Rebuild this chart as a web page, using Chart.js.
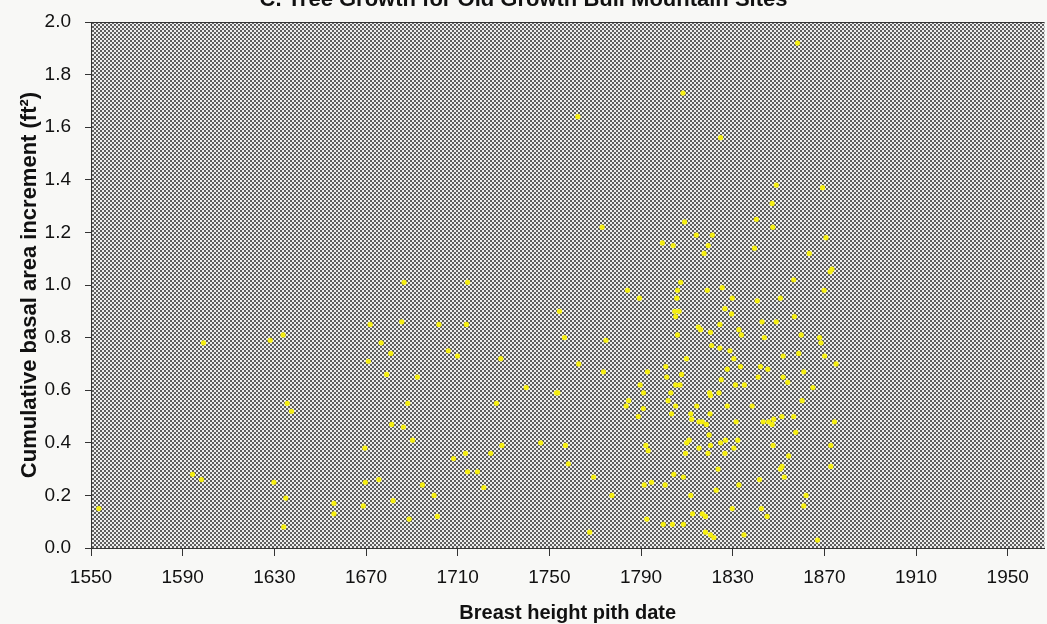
<!DOCTYPE html>
<html>
<head>
<meta charset="utf-8">
<script src="https://cdn.jsdelivr.net/npm/chart.js@4.4.0/dist/chart.umd.min.js"></script>
<style>
html, body { margin: 0; padding: 0; background: #f8f8f6; }
#wrap { position: relative; width: 1047px; height: 624px; overflow: hidden; }
#box { position: absolute; left: 0; top: -14px; width: 1047px; height: 638px; }
</style>
</head>
<body>
<div id="wrap"><div id="box"><canvas id="chart"></canvas></div></div>
<script>
// pith dates (x) and cumulative basal area increment (y)
const pithYears = [
    1553.4, 1599.1, 1594.3, 1598.2, 1628.2, 1633.8, 1635.6, 1637.5, 1629.8, 1635.0,
    1634.1, 1656.0, 1656.0, 1668.8, 1669.5, 1669.7, 1675.6, 1671.8, 1671.0, 1676.6,
    1680.8, 1679.0, 1685.6, 1686.6, 1692.4, 1688.2, 1681.2, 1686.3, 1690.3, 1681.8,
    1688.8, 1714.3, 1701.8, 1713.8, 1705.9, 1709.9, 1728.8, 1726.9, 1739.9, 1708.2,
    1713.4, 1724.4, 1729.3, 1714.3, 1718.6, 1694.6, 1699.7, 1721.4, 1701.1, 1754.4,
    1756.6, 1774.7, 1762.8, 1773.6, 1753.1, 1753.7, 1746.2, 1757.0, 1758.3, 1769.3,
    1777.3, 1767.6, 1784.1, 1789.3, 1783.5, 1784.6, 1788.8, 1789.6, 1791.1, 1792.8,
    1791.0, 1792.1, 1793.1, 1791.4, 1794.6, 1792.5, 1799.7, 1803.7, 1808.5, 1800.5,
    1804.3, 1808.5, 1811.7, 1812.5, 1816.7, 1818.1, 1818.1, 1820.3, 1821.8, 1834.9,
    1829.8, 1832.7, 1822.8, 1823.6, 1807.3, 1805.9, 1805.6, 1804.7, 1806.6, 1805.1,
    1805.9, 1800.8, 1801.2, 1807.7, 1805.1, 1807.0, 1803.0, 1809.8, 1801.8, 1805.1,
    1803.3, 1811.7, 1812.1, 1814.3, 1820.1, 1815.3, 1816.7, 1818.5, 1819.7, 1811.0,
    1809.9, 1809.4, 1815.3, 1819.2, 1820.3, 1824.7, 1826.9, 1826.6, 1830.5, 1832.2,
    1827.6, 1831.5, 1820.3, 1815.0, 1816.0, 1820.8, 1824.4, 1828.8, 1830.5, 1833.4,
    1827.6, 1825.0, 1819.9, 1820.3, 1824.0, 1831.2, 1835.1, 1818.9, 1825.4, 1829.8,
    1826.6, 1829.5, 1824.4, 1832.7, 1833.8, 1840.7, 1850.8, 1869.9, 1842.8, 1849.0,
    1856.9, 1843.8, 1859.9, 1867.9, 1868.5, 1870.1, 1875.1, 1852.0, 1858.8, 1842.1,
    1845.3, 1841.1, 1852.0, 1854.0, 1861.0, 1865.0, 1838.5, 1860.3, 1843.3, 1845.7,
    1847.2, 1847.9, 1851.5, 1856.6, 1874.4, 1857.5, 1847.6, 1854.4, 1872.8, 1872.8,
    1851.5, 1850.8, 1852.5, 1841.7, 1862.0, 1861.0, 1842.5, 1845.0, 1867.0, 1808.3,
    1762.4, 1824.7, 1773.0, 1809.0, 1814.1, 1821.1, 1799.3, 1804.0, 1819.3, 1817.5,
    1858.3, 1849.0, 1869.2, 1847.2, 1840.3, 1847.5, 1870.7, 1839.5, 1863.4, 1873.3,
    1872.5, 1856.6
];
const basalArea = [
    0.15, 0.78, 0.28, 0.26, 0.79, 0.81, 0.55, 0.52, 0.25, 0.19,
    0.08, 0.17, 0.13, 0.16, 0.38, 0.25, 0.26, 0.85, 0.71, 0.78,
    0.74, 0.66, 0.86, 1.01, 0.65, 0.55, 0.47, 0.46, 0.41, 0.18,
    0.11, 1.01, 0.85, 0.85, 0.75, 0.73, 0.72, 0.55, 0.61, 0.34,
    0.36, 0.36, 0.39, 0.29, 0.29, 0.24, 0.20, 0.23, 0.12, 0.90,
    0.80, 0.79, 0.70, 0.67, 0.59, 0.59, 0.40, 0.39, 0.32, 0.27,
    0.20, 0.06, 0.98, 0.95, 0.54, 0.56, 0.50, 0.62, 0.59, 0.67,
    0.53, 0.39, 0.37, 0.24, 0.25, 0.11, 0.09, 0.09, 0.09, 0.24,
    0.28, 0.27, 0.20, 0.13, 0.13, 0.12, 0.06, 0.05, 0.04, 0.05,
    0.15, 0.24, 0.22, 0.30, 1.01, 0.98, 0.95, 0.90, 0.90, 0.88,
    0.81, 0.69, 0.65, 0.66, 0.62, 0.62, 0.59, 0.72, 0.56, 0.54,
    0.51, 0.51, 0.49, 0.54, 0.51, 0.48, 0.48, 0.47, 0.43, 0.41,
    0.40, 0.36, 0.38, 0.36, 0.39, 0.40, 0.41, 0.36, 0.38, 0.41,
    0.54, 0.48, 0.82, 0.84, 0.83, 0.77, 0.76, 0.75, 0.72, 0.69,
    0.68, 0.64, 0.59, 0.58, 0.59, 0.62, 0.62, 0.98, 0.99, 0.95,
    0.91, 0.89, 0.85, 0.83, 0.81, 0.94, 0.95, 0.98, 0.86, 0.86,
    0.88, 0.80, 0.81, 0.80, 0.78, 0.73, 0.70, 0.73, 0.74, 0.69,
    0.68, 0.65, 0.65, 0.63, 0.67, 0.61, 0.54, 0.56, 0.48, 0.48,
    0.47, 0.49, 0.50, 0.50, 0.48, 0.44, 0.39, 0.35, 0.39, 0.31,
    0.31, 0.30, 0.27, 0.26, 0.20, 0.16, 0.15, 0.12, 0.03, 1.73,
    1.64, 1.56, 1.22, 1.24, 1.19, 1.19, 1.16, 1.15, 1.15, 1.12,
    1.92, 1.38, 1.37, 1.31, 1.25, 1.22, 1.18, 1.14, 1.12, 1.06,
    1.05, 1.02
];
const xTicks = [1550, 1590, 1630, 1670, 1710, 1750, 1790, 1830, 1870, 1910, 1950];
const yTicks = [0, 0.2, 0.4, 0.6, 0.8, 1.0, 1.2, 1.4, 1.6, 1.8, 2.0];

const points = pithYears.map((yr, i) => ({ x: yr, y: basalArea[i] }));

// stippled grey fill of the plot area
const pc = document.createElement('canvas');
pc.width = 4; pc.height = 4;
const pctx = pc.getContext('2d');
pctx.fillStyle = '#ececec';
pctx.fillRect(0, 0, 4, 4);
pctx.fillStyle = '#5e5e5e';
pctx.fillRect(0, 0, 2, 2);
pctx.fillRect(2, 2, 2, 2);

const plotBg = {
    id: 'plotBg',
    beforeDraw(chart) {
        const { ctx, chartArea: a } = chart;
        ctx.save();
        ctx.fillStyle = '#f8f8f6';
        ctx.fillRect(0, 0, chart.width, chart.height);
        ctx.fillStyle = ctx.createPattern(pc, 'repeat');
        ctx.fillRect(a.left, a.top, a.right - a.left, a.bottom - a.top);
        ctx.strokeStyle = '#333';
        ctx.lineWidth = 1;
        ctx.beginPath();
        ctx.moveTo(a.left, a.top + 0.5);
        ctx.lineTo(a.right, a.top + 0.5);
        ctx.stroke();
        ctx.restore();
    }
};

const tickFont = { family: 'Arial, "Liberation Sans", sans-serif', size: 19 };
const titleFont = { family: 'Arial, "Liberation Sans", sans-serif', size: 20, weight: 'bold', lineHeight: 1 };

new Chart(document.getElementById('chart'), {
    type: 'scatter',
    data: {
        datasets: [{
            data: points,
            backgroundColor: '#f6ef10',
            borderWidth: 0,
            pointRadius: 2.6,
            pointHoverRadius: 2.6
        }]
    },
    options: {
        responsive: true,
        maintainAspectRatio: false,
        devicePixelRatio: 1,
        animation: false,
        layout: { padding: 0 },
        plugins: {
            legend: { display: false },
            tooltip: { enabled: false },
            title: {
                display: true,
                text: 'C. Tree Growth for Old Growth Bull Mountain Sites',
                color: '#111',
                font: { family: 'Arial, "Liberation Sans", sans-serif', size: 22, weight: 'bold', lineHeight: 1 },
                padding: { top: 3, bottom: 11 }
            }
        },
        scales: {
            x: {
                type: 'linear',
                min: 1550,
                max: 1966,
                afterBuildTicks: s => { s.ticks = xTicks.map(v => ({ value: v })); },
                afterFit: s => { s.height = 76; },
                ticks: { font: tickFont, color: '#111', padding: 10, maxRotation: 0, autoSkip: false, callback: v => String(v) },
                grid: { drawOnChartArea: false, tickLength: 8, color: '#333' },
                border: { color: '#333' },
                title: {
                    display: true,
                    text: 'Breast height pith date',
                    color: '#111',
                    font: titleFont,
                    padding: { top: 0, bottom: 1 }
                }
            },
            y: {
                min: 0,
                max: 2,
                afterBuildTicks: s => { s.ticks = yTicks.map(v => ({ value: v })); },
                afterFit: s => { s.width = 91; },
                ticks: { font: tickFont, color: '#111', padding: 14, callback: v => v.toFixed(1) },
                grid: { drawOnChartArea: false, tickLength: 6, color: '#333' },
                border: { color: '#333' },
                title: {
                    display: true,
                    text: 'Cumulative basal area increment (ft²)',
                    color: '#111',
                    font: { family: 'Arial, "Liberation Sans", sans-serif', size: 22, weight: 'bold', lineHeight: 1 },
                    padding: { top: 19, bottom: 0 }
                }
            }
        }
    },
    plugins: [plotBg]
});
</script>
</body>
</html>
